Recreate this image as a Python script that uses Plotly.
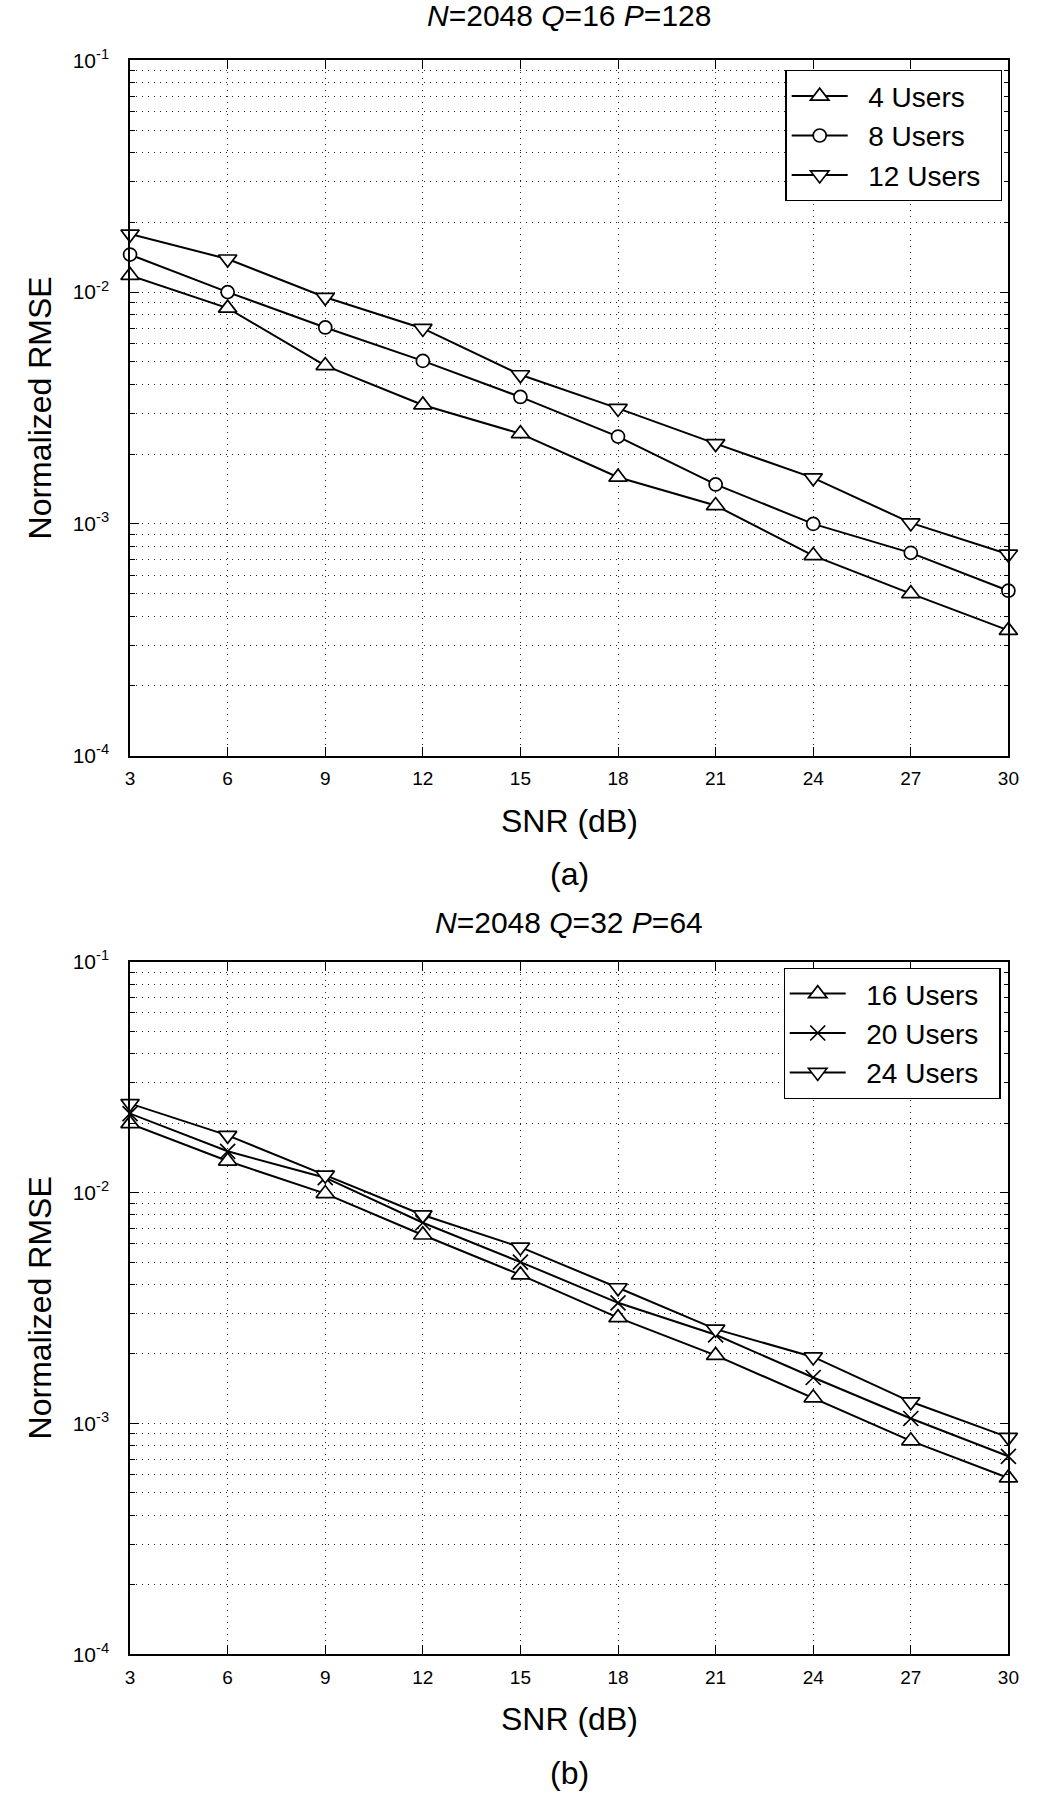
import plotly.graph_objects as go

# ---------------- data ----------------
snr = [3, 6, 9, 12, 15, 18, 21, 24, 27, 30]
snr_ticks = [3, 6, 9, 12, 15, 18, 21, 24, 27, 30]

# panel (a): N=2048 Q=16 P=128
users4 = [0.0118, 0.00853, 0.00482, 0.00326, 0.00245, 0.00159, 0.00120, 0.00073, 0.00050, 0.000347]
users8 = [0.01452, 0.0100, 0.00704, 0.00505, 0.00353, 0.00238, 0.00148, 0.00100, 0.00075, 0.000515]
users12 = [0.0178, 0.0139, 0.0095, 0.00697, 0.0044, 0.00315, 0.00222, 0.00158, 0.00101, 0.00074]

# panel (b): N=2048 Q=32 P=64
users16 = [0.0199, 0.0137, 0.0099, 0.00655, 0.0044, 0.00287, 0.00197, 0.00129, 0.00084, 0.00058]
users20 = [0.0220, 0.0151, 0.0116, 0.0074, 0.0050, 0.00333, 0.00242, 0.00158, 0.00105, 0.00072]
users24 = [0.0243, 0.0177, 0.0119, 0.0080, 0.0058, 0.00387, 0.00256, 0.00194, 0.00124, 0.00087]

y_major = [1e-4, 1e-3, 1e-2, 1e-1]
y_major_text = ["10<sup>-4</sup>", "10<sup>-3</sup>", "10<sup>-2</sup>", "10<sup>-1</sup>"]

title_a = "<i>N</i>=2048 <i>Q</i>=16 <i>P</i>=128"
title_b = "<i>N</i>=2048 <i>Q</i>=32 <i>P</i>=64"

# ---------------- layout geometry ----------------
W, H = 1045, 1820
FONT = "Liberation Sans, Arial, Helvetica, sans-serif"
xl, xr = 127, 1019
top_a, bot_a = 47, 752
top_b, bot_b = 961, 1663

def px_x(p):
    return p / W

def px_y(p):
    return 1 - p / H

y_minor = [m * 10 ** e for e in (-4, -3, -2) for m in range(2, 10)]

fig = go.Figure()

line_w = 2
PAD = "\u00a0\u00a0"
TAIL = "\u00a0\u00a0"

def add(y, name, symbol, size, xa, ya, leg, fill="white"):
    fig.add_trace(go.Scatter(
        x=snr, y=y, name=PAD + name + TAIL, mode="lines+markers",
        line=dict(color="black", width=line_w),
        marker=dict(symbol=symbol, size=size, color=fill,
                    line=dict(color="black", width=1.7)),
        xaxis=xa, yaxis=ya, legend=leg, cliponaxis=False,
    ))

add(users4, "4 Users", "triangle-up", 16, "x", "y", "legend")
add(users8, "8 Users", "circle", 13, "x", "y", "legend")
add(users12, "12 Users", "triangle-down", 16, "x", "y", "legend")

add(users16, "16 Users", "triangle-up", 16, "x2", "y2", "legend2")
add(users20, "20 Users", "x-thin", 15, "x2", "y2", "legend2", fill="black")
add(users24, "24 Users", "triangle-down", 16, "x2", "y2", "legend2")

grid_dash = "1px,5px"
grid_col = "#222222"

def xaxis_cfg(anchor):
    return dict(
        domain=[px_x(xl), px_x(xr)], anchor=anchor, range=[3, 30],
        tickmode="array", tickvals=snr_ticks, ticktext=[str(t) for t in snr_ticks],
        ticks="inside", ticklen=9, tickwidth=1.2, tickcolor="black",
        showline=True, linecolor="black", linewidth=1.5, mirror="allticks",
        showgrid=True, gridcolor=grid_col, gridwidth=1, griddash=grid_dash,
        zeroline=False, tickfont=dict(family=FONT, size=19, color="black"),
        ticklabelstandoff=5,
    )

def yaxis_cfg(anchor, top, bot):
    return dict(
        domain=[px_y(bot), px_y(top)], anchor=anchor, type="log", range=[-4, -1],
        tickmode="array", tickvals=y_major, ticktext=y_major_text,
        ticks="inside", ticklen=9, tickwidth=1.2, tickcolor="black",
        showline=True, linecolor="black", linewidth=1.5, mirror="allticks",
        showgrid=True, gridcolor=grid_col, gridwidth=1, griddash=grid_dash,
        zeroline=False, tickfont=dict(family=FONT, size=21, color="black"),
        ticklabelstandoff=15,
        minor=dict(tickmode="array", tickvals=y_minor, ticks="inside", ticklen=5,
                   tickwidth=1, tickcolor="black", showgrid=True,
                   gridcolor=grid_col, gridwidth=1, griddash=grid_dash),
    )

legend_common = dict(
    xanchor="right", yanchor="top", bgcolor="white",
    bordercolor="black", borderwidth=1.2,
    font=dict(family=FONT, size=28, color="black"),
    itemwidth=56, tracegroupgap=0,
)

fig.update_layout(
    width=W, height=H,
    margin=dict(l=0, r=0, t=0, b=0),
    paper_bgcolor="white", plot_bgcolor="white",
    showlegend=True,
    xaxis=xaxis_cfg("y"), yaxis=yaxis_cfg("x", top_a, bot_a),
    xaxis2=xaxis_cfg("y2"), yaxis2=yaxis_cfg("x2", top_b, bot_b),
    legend=dict(x=px_x(1013), y=px_y(57), **legend_common),
    legend2=dict(x=px_x(1011), y=px_y(967), **legend_common),
    font=dict(family=FONT, color="black"),
)

def ann(text, xp, yp, size, angle=0):
    fig.add_annotation(
        text=text, x=px_x(xp), y=px_y(yp), xref="paper", yref="paper",
        showarrow=False, xanchor="center", yanchor="middle", textangle=angle,
        font=dict(family=FONT, size=size, color="black"),
    )

cx = (xl + xr) / 2
ann(title_a, cx, 2, 30)
ann(title_b, cx, 921, 30)
ann("SNR (dB)", cx, bot_a + 66, 32)
ann("SNR (dB)", cx, bot_b + 66, 32)
ann("(a)", cx, bot_a + 120, 32)
ann("(b)", cx, bot_b + 120, 32)
ann("Normalized RMSE", 36, (top_a + bot_a) / 2, 32, -90)
ann("Normalized RMSE", 36, (top_b + bot_b) / 2, 32, -90)

fig.write_html("out.html")
